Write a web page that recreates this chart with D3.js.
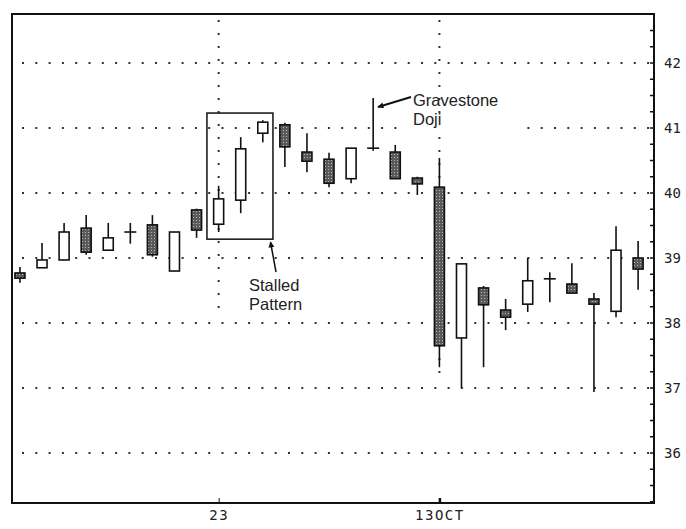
<!DOCTYPE html>
<html><head><meta charset="utf-8">
<script src="https://cdn.jsdelivr.net/npm/d3@7"></script>
<style>html,body{margin:0;padding:0;background:#fff;}svg{display:block;}</style>
</head><body>
<svg id="c" width="686" height="529"></svg>
<script>
// ---- data ----
const days   = d3.range(29); // trading-day index
const opens  = [38.77,38.85,38.97,39.46,39.12,39.40,39.51,38.80,39.74,39.52,39.89,40.92,41.05,40.63,40.52,40.22,40.69,40.63,40.23,40.09,37.77,38.54,38.20,38.29,38.68,38.60,38.37,38.18,39.00];
const highs  = [38.86,39.23,39.54,39.66,39.54,39.54,39.66,39.40,39.76,40.11,40.86,41.12,41.08,40.92,40.62,40.69,41.46,40.74,40.25,40.54,38.91,38.57,38.37,39.00,38.78,38.92,38.46,39.49,39.26];
const lows   = [38.62,38.85,38.97,39.05,39.12,39.22,39.02,38.80,39.31,39.40,39.69,40.78,40.40,40.32,40.09,40.15,40.65,40.22,39.97,37.32,37.00,37.32,37.89,38.17,38.32,38.46,36.94,38.09,38.51];
const closes = [38.69,38.97,39.40,39.09,39.31,39.40,39.05,39.40,39.43,39.91,40.68,41.09,40.71,40.49,40.15,40.69,40.69,40.22,40.14,37.65,38.91,38.28,38.09,38.65,38.68,38.46,38.29,39.12,38.83];
const yTicks = [36,37,38,39,40,41,42];
const xTickDays   = [9,19];
const xTickLabels = ["23","13OCT"];

// ---- layout ----
const svg = d3.select("#c");
const L=12, R=654, T=14, B=503;
const x = d3.scaleLinear().domain([-0.36, 28.72]).range([L, R]);
const y = d3.scaleLinear().domain([35.231, 42.754]).range([B, T]);

// stipple pattern for down candles
const defs = svg.append("defs");
const pat = defs.append("pattern").attr("id","stip").attr("patternUnits","userSpaceOnUse").attr("width",3).attr("height",3);
pat.append("rect").attr("width",3).attr("height",3).attr("fill","#5a5a5a");
pat.append("rect").attr("x",1).attr("y",1).attr("width",1).attr("height",1).attr("fill","#b8b8b8");

// horizontal dotted grid
svg.append("g").selectAll("line").data(yTicks).join("line")
  .attr("x1", L+10).attr("x2", R).attr("y1", d=>y(d)).attr("y2", d=>y(d))
  .attr("stroke","#333").attr("stroke-width",2).attr("stroke-dasharray","2 11.3");

// vertical dotted date lines
svg.append("line").attr("x1",x(9)).attr("x2",x(9)).attr("y1",T+6).attr("y2",y(38.2))
  .attr("stroke","#333").attr("stroke-width",2).attr("stroke-dasharray","2 11");
svg.append("line").attr("x1",x(19)).attr("x2",x(19)).attr("y1",T+6).attr("y2",y(37.1))
  .attr("stroke","#333").attr("stroke-width",2).attr("stroke-dasharray","2 11");

// annotation text backgrounds (gaps in gridlines)
svg.append("rect").attr("x",403).attr("y",y(41)-6).attr("width",115).attr("height",12).attr("fill","#fff");

// frame
svg.append("rect").attr("x",L).attr("y",T).attr("width",R-L).attr("height",B-T)
  .attr("fill","none").attr("stroke","#111").attr("stroke-width",2);

// right axis with minor ticks
const yAxis = d3.axisRight(y).tickValues(yTicks).tickSize(0).tickPadding(10).tickFormat(d3.format("d"));
const ga = svg.append("g").attr("transform",`translate(${R},0)`).call(yAxis);
ga.select(".domain").remove();
ga.selectAll("text").attr("font-family","DejaVu Sans Mono, monospace").attr("font-size",14).attr("fill","#222");
svg.append("g").selectAll("line").data(d3.range(35.25, 42.76, 0.25)).join("line")
  .attr("x1",R-4).attr("x2",R).attr("y1",d=>y(d)).attr("y2",d=>y(d)).attr("stroke","#111").attr("stroke-width",1.5);

// bottom axis
const xAxis = d3.axisBottom(x).tickValues(xTickDays).tickSize(-5).tickPadding(7)
  .tickFormat((d,i)=>xTickLabels[i]);
const gx = svg.append("g").attr("transform",`translate(0,${B})`).call(xAxis);
gx.select(".domain").remove();
gx.selectAll("line").attr("stroke","#111").attr("stroke-width",(d,i)=>i?2.5:1);
gx.selectAll("text").attr("font-family","DejaVu Sans Mono, monospace").attr("font-size",14)
  .attr("letter-spacing",1.5).attr("fill","#222");

// candles
const bw = 10;
const g = svg.append("g");
days.forEach(i=>{
  const o=opens[i], c=closes[i], h=highs[i], l=lows[i];
  const cx = x(i);
  g.append("line").attr("x1",cx).attr("x2",cx).attr("y1",y(h)).attr("y2",y(l))
    .attr("stroke","#111").attr("stroke-width",1.6);
  if (Math.abs(o-c) < 0.005) {
    g.append("line").attr("x1",cx-6).attr("x2",cx+6).attr("y1",y(o)).attr("y2",y(o))
      .attr("stroke","#111").attr("stroke-width",1.6);
  } else {
    const top = y(Math.max(o,c)), bot = y(Math.min(o,c));
    g.append("rect").attr("x",cx-bw/2).attr("y",top).attr("width",bw).attr("height",Math.max(bot-top,3))
      .attr("fill", c<o ? "url(#stip)" : "#fff").attr("stroke","#111").attr("stroke-width",1.6);
  }
});

// Stalled pattern box
svg.append("rect").attr("x",x(8.47)).attr("y",y(41.23))
  .attr("width",x(11.46)-x(8.47)).attr("height",y(39.29)-y(41.23))
  .attr("fill","none").attr("stroke","#111").attr("stroke-width",1.5);

// arrows
defs.append("marker").attr("id","ah").attr("viewBox","0 0 10 10").attr("refX",9).attr("refY",5)
  .attr("markerWidth",8).attr("markerHeight",6).attr("orient","auto").attr("markerUnits","userSpaceOnUse")
  .append("path").attr("d","M0,0 L10,5 L0,10 z").attr("fill","#111");
svg.append("line").attr("x1",276).attr("y1",272).attr("x2",270.5).attr("y2",242)
  .attr("stroke","#111").attr("stroke-width",1.5).attr("marker-end","url(#ah)");
svg.append("line").attr("x1",411).attr("y1",97).attr("x2",378).attr("y2",107)
  .attr("stroke","#111").attr("stroke-width",2).attr("marker-end","url(#ah)");

// annotation text
const tf = "Liberation Sans, Arial, sans-serif";
const ann = [["Gravestone",413,106],["Doji",413,125],["Stalled",249,291],["Pattern",249,310]];
svg.append("g").selectAll("text").data(ann).join("text")
  .attr("x",d=>d[1]).attr("y",d=>d[2]).text(d=>d[0])
  .attr("font-family",tf).attr("font-size",16.5).attr("fill","#222");
</script>
</body></html>
